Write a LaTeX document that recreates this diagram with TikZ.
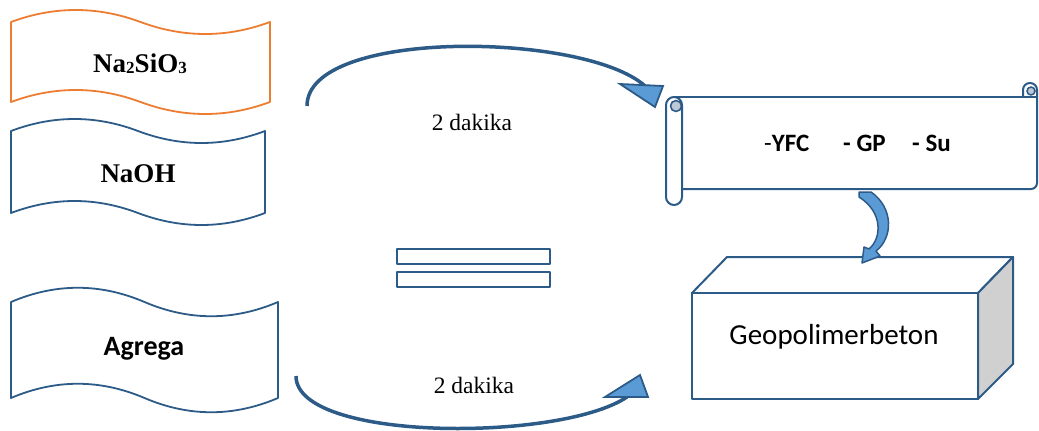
\documentclass[tikz,border=0pt]{standalone}
\usepackage{fontspec}
\setmainfont{Liberation Serif}
\newfontfamily\calib{Carlito}
\definecolor{navy}{HTML}{2D5B88}
\definecolor{tangerine}{HTML}{ED7D31}
\definecolor{sky}{HTML}{5B9BD5}
\definecolor{curl}{HTML}{BFC9D6}
\definecolor{sideface}{HTML}{D0D0D0}

% wavy banner: x0, y0 (top-left corner), width, height, wave depth
\newcommand\wavebanner[6]{%
  \draw[#6] (#1,#2)
    .. controls ({#1+#3/6},{#2-#5}) and ({#1+#3/3},{#2-#5}) .. ({#1+#3/2},#2)
    .. controls ({#1+2*#3/3},{#2+#5}) and ({#1+5*#3/6},{#2+#5}) .. ({#1+#3},#2)
    -- ({#1+#3},{#2+#4})
    .. controls ({#1+5*#3/6},{#2+#4+#5}) and ({#1+2*#3/3},{#2+#4+#5}) .. ({#1+#3/2},{#2+#4})
    .. controls ({#1+#3/3},{#2+#4-#5}) and ({#1+#3/6},{#2+#4-#5}) .. (#1,{#2+#4})
    -- cycle;}

\begin{document}
\begin{tikzpicture}[x=1pt,y=-1pt,
  banner/.style={line width=1.8pt,line join=round},
  outline/.style={draw=navy,line width=2pt,line join=round},
  flow/.style={draw=navy,line width=3.5pt},
  head/.style={draw=navy,fill=sky,line width=1.8pt,line join=miter},
  chem/.style={inner sep=0pt,anchor=base,font=\bfseries\fontsize{27}{30}\selectfont},
  lbl/.style={inner sep=0pt,anchor=base,font=\fontsize{23.5}{26}\selectfont},
  cal/.style={inner sep=0pt,anchor=base,font=\calib\bfseries\fontsize{25}{28}\selectfont}]
\useasboundingbox (0,0) rectangle (1039,431);

% ingredient banners
\wavebanner{11}{22}{259}{80}{16}{banner,draw=tangerine,fill=white}
\wavebanner{11}{131}{254}{82}{16}{banner,draw=navy,fill=white}
\wavebanner{11}{302}{267}{96}{19}{banner,draw=navy,fill=white}
\node[chem] (sil) at (140,72) {Na\raisebox{-1pt}{\fontsize{17}{17}\selectfont 2}SiO\raisebox{-1.5pt}{\fontsize{17}{17}\selectfont 3}};
\node[chem] (naoh) at (138,182) {NaOH};
\node[inner sep=0pt,anchor=base,font=\calib\bfseries\fontsize{28}{30}\selectfont] (agr) at (144,355) {Agrega};

% equals sign
\draw[outline,line width=2.2pt,fill=white] (397,249) rectangle (550,264);
\draw[outline,line width=2.2pt,fill=white] (397,272) rectangle (550,287);
\node[inner sep=0pt] (eq) at (473.5,268) {};

% scroll holding the mix components
\draw[outline,rounded corners=6] (682,189) -- (1037,189) -- (1037,90);
\draw[outline] (674,97) -- (1037,97);
\draw[outline] (1023,97) -- (1023,90)
  .. controls (1023,86) and (1026,83) .. (1030,83)
  .. controls (1034,83) and (1037,86) .. (1037,90);
\draw[outline,line width=1.6pt,fill=curl] (1031,91) circle[radius=4];
\draw[outline,fill=white,rounded corners=8] (666,97) rectangle (682,205);
\draw[outline,line width=1.6pt,fill=curl] (676,106) circle[radius=5.5];
\node[inner sep=0pt] (scroll) at (858,143) {};
\node[cal,anchor=base west,font=\calib\fontsize{25}{28}\selectfont] (t1) at (764,151) {-\textbf{YFC}};
\node[cal,anchor=base west] (t2) at (843,151) {- GP};
\node[cal,anchor=base west] (t3) at (912,151) {- Su};

% block of geopolymer concrete
\draw[outline,fill=white] (692,293) -- (727,257) -- (1013,257) -- (978,293) -- cycle;
\draw[outline,fill=sideface] (978,293) -- (1013,257) -- (1013,364) -- (978,399) -- cycle;
\draw[outline,fill=white] (692,293) rectangle (978,399);
\node[inner sep=0pt,anchor=base,font=\calib\fontsize{29}{32}\selectfont] (geo) at (834,344) {Geopolimerbeton};

% mixing arrows
\coordinate (a1s) at (307,106);
\coordinate (a1e) at (645,86);
\coordinate (a2s) at (296,376);
\coordinate (a2e) at (627,397);
\draw[flow] (a1s) .. controls (307,28) and (585,32) .. (a1e);
\draw[head] (620,84) -- (663,86) -- (655,107) -- cycle;
\draw[flow] (a2s) .. controls (296,442) and (560,442) .. (a2e);
\draw[head] (605,397) -- (640,375) -- (648,397) -- cycle;
\node[lbl] (d1) at (472,130) {2 dakika};
\node[lbl] (d2) at (474,393) {2 dakika};

% curved arrow from scroll down to the block
\draw[head,line width=1.5pt,line join=round]
  (859,192) -- (871,192)
  .. controls (894,208) and (893,238) .. (876,251)
  -- (880,256) -- (862,263) -- (864,247) -- (869,249)
  .. controls (882,238) and (883,212) .. (859,197) -- cycle;
\end{tikzpicture}
\end{document}
